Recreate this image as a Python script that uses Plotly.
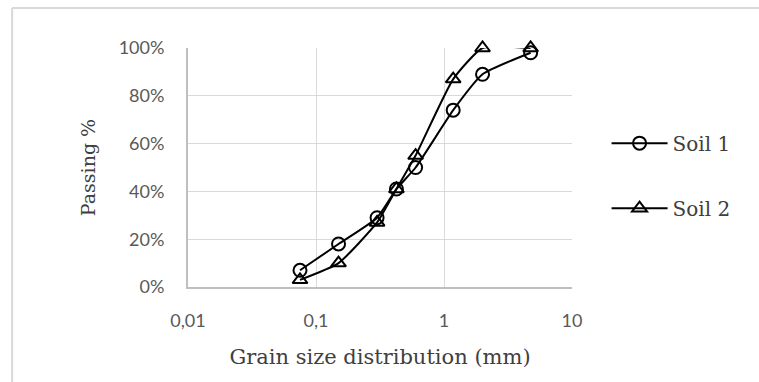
import plotly.graph_objects as go

# Sieve openings (mm) and cumulative passing (%)
sieve_mm = [0.075, 0.15, 0.3, 0.425, 0.6, 1.18, 2.0, 4.75]
soil1_passing = [7, 18, 29, 41, 50, 74, 89, 98]
soil2_passing = [3, 10, 27, 41, 55, 87, 100, 100]

x_tick_vals = [0.01, 0.1, 1, 10]
x_tick_text = ["0,01", "0,1", "1", "10"]
y_tick_vals = [0, 20, 40, 60, 80, 100]
y_tick_text = ["0%", "20%", "40%", "60%", "80%", "100%"]

SERIF = "DejaVu Serif"
SANS = "Lato"

fig = go.Figure()
fig.add_trace(go.Scatter(
    x=sieve_mm, y=soil1_passing, name="Soil 1", mode="lines+markers",
    line=dict(color="black", width=2, shape="spline", smoothing=0.5),
    marker=dict(symbol="circle-open", size=13, color="black", line=dict(width=2)),
    legendgroup="s1", cliponaxis=False,
))
fig.add_trace(go.Scatter(
    x=sieve_mm, y=soil2_passing, name="Soil 2", mode="lines+markers",
    line=dict(color="black", width=2, shape="spline", smoothing=0.5),
    marker=dict(symbol="triangle-up-open", size=13, color="black", line=dict(width=2)),
    legendgroup="s2", cliponaxis=False,
))

fig.update_layout(
    width=759, height=382,
    margin=dict(l=188, r=187, t=48, b=95),
    paper_bgcolor="white", plot_bgcolor="white",
    showlegend=True,
    legend=dict(
        x=1.09, y=0.466, xanchor="left", yanchor="middle",
        font=dict(family=SERIF, size=20, color="#404040"),
        traceorder="grouped", tracegroupgap=36, itemwidth=56,
        bgcolor="rgba(0,0,0,0)",
    ),
    shapes=[
        dict(type="line", xref="paper", yref="paper", x0=-0.458, x1=1.5, y0=1.167, y1=1.167,
             line=dict(color="#d9d9d9", width=2)),
        dict(type="line", xref="paper", yref="paper", x0=-0.458, x1=-0.458, y0=1.167, y1=-0.45,
             line=dict(color="#d9d9d9", width=2)),
    ],
)

fig.update_xaxes(
    type="log", range=[-2, 1],
    tickvals=x_tick_vals, ticktext=x_tick_text,
    tickfont=dict(family=SANS, size=18, color="#595959"),
    showgrid=True, gridcolor="#d9d9d9", gridwidth=1,
    showline=True, linecolor="#bfbfbf", linewidth=2,
    ticks="", ticklabelstandoff=16,
    title=dict(text="Grain size distribution (mm)", font=dict(family=SERIF, size=21, color="#404040"), standoff=20),
    zeroline=False,
)
fig.update_yaxes(
    range=[0, 100], tickvals=y_tick_vals, ticktext=y_tick_text,
    tickfont=dict(family=SANS, size=18, color="#595959"),
    showgrid=True, gridcolor="#d9d9d9", gridwidth=1,
    showline=True, linecolor="#bfbfbf", linewidth=2,
    ticks="", ticklabelstandoff=18,
    title=dict(text="Passing %", font=dict(family=SERIF, size=19, color="#404040"), standoff=18),
    zeroline=False,
)

fig.write_html("out.html")
